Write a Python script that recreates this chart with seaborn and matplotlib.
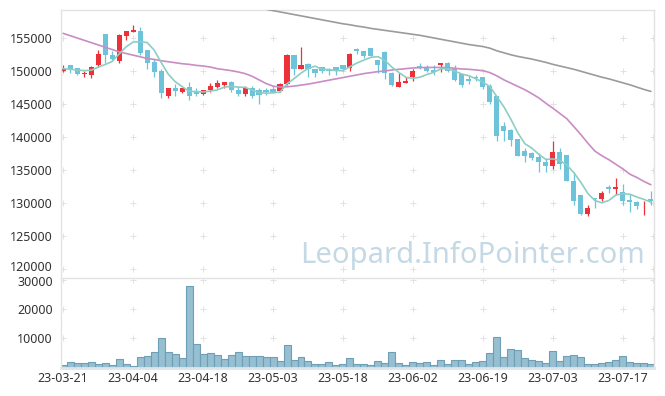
import numpy as np
import pandas as pd
import matplotlib
matplotlib.use("Agg")
import matplotlib.pyplot as plt
import matplotlib.transforms as mtransforms
import seaborn as sns

# daily candles, 23-03-21 .. 23-07-21 (trading days)
opens = [149900, 150900, 150400, 149500, 149300, 150800, 155500, 152300, 151400, 155300,
         155900, 156000, 153100, 151300, 150000, 146100, 147300, 146700, 147500, 146900,
         146400, 147000, 147500, 147800, 148300, 147100, 146400, 147300, 147000, 147000,
         147200, 146900, 147900, 152400, 150200, 151000, 150300, 150600, 150300, 150500,
         150900, 150400, 153300, 153000, 153400, 151600, 152800, 149600, 147500, 148100,
         149000, 150700, 150500, 150100, 150800, 151200, 150200, 149500, 148700, 149100,
         149100, 147600, 146100, 141600, 141000, 139600, 137800, 137500, 136900, 136100,
         135600, 137700, 137200, 133300, 131200, 128200, 130700, 130600, 132300, 132000,
         131600, 130400, 130100, 130200, 130600]
closes = [150200, 150300, 149500, 149700, 150600, 152500, 152300, 151800, 155400, 156000,
          156100, 152700, 151100, 149800, 146600, 147300, 146900, 147300, 146200, 146400,
          147000, 147600, 148100, 148300, 147100, 146400, 147400, 146100, 146300, 146700,
          146700, 147900, 152400, 150200, 150900, 150200, 149700, 150000, 150000, 150100,
          150300, 152500, 152900, 152200, 152200, 150800, 149600, 147800, 148200, 148500,
          150000, 150500, 149900, 149800, 151200, 150000, 148600, 147800, 148500, 148900,
          147500, 145200, 140100, 140800, 139500, 137100, 137100, 136700, 136100, 135600,
          137600, 135900, 133200, 130300, 128300, 129200, 130500, 131500, 132100, 132400,
          130200, 130100, 129400, 130300, 130300]
highs = [150800, 150900, 150400, 149900, 150700, 153100, 155500, 152900, 155500, 156000,
         156900, 156600, 153100, 151700, 150300, 147300, 147900, 147300, 148300, 147300,
         147100, 148100, 148600, 148300, 148400, 147600, 147600, 147600, 147300, 147300,
         147600, 148100, 152500, 152400, 153600, 151100, 150300, 150600, 150400, 150500,
         150900, 152700, 153400, 153000, 153400, 151600, 152900, 149800, 149600, 149100,
         150300, 151200, 150800, 150800, 151200, 151300, 150900, 149500, 149400, 149400,
         149100, 147900, 146100, 142200, 141200, 139600, 138300, 137700, 137500, 136800,
         139400, 138300, 137200, 134600, 131200, 129600, 130700, 131700, 132700, 133700,
         132800, 131300, 130300, 130300, 131800]
lows = [149800, 149600, 149300, 149100, 148900, 150600, 151100, 151600, 151100, 154600,
        155900, 152300, 150300, 149100, 145800, 145800, 146100, 146600, 145600, 146100,
        146300, 146800, 147300, 147300, 146800, 146100, 146200, 145800, 145000, 146300,
        146600, 146700, 147800, 149300, 150200, 149100, 149100, 149600, 149400, 149400,
        149900, 150000, 152500, 151900, 152200, 149700, 148800, 147700, 147500, 148100,
        148400, 150300, 149800, 149300, 149800, 149800, 148400, 147500, 147900, 148400,
        147200, 144900, 139300, 139300, 138500, 137100, 136100, 136500, 134700, 134700,
        135100, 135100, 133200, 129700, 128100, 128000, 129200, 130300, 131500, 131100,
        129600, 128500, 129000, 128100, 129600]
volume = [700, 1800, 1400, 1400, 1800, 1100, 1400, 750, 2800, 1100,
          400, 3500, 3800, 5200, 10000, 5200, 4500, 3100, 27800, 7900,
          4500, 4850, 4150, 2800, 4150, 5200, 4050, 4050, 4050, 3700,
          3500, 2100, 7600, 2600, 3500, 2100, 1100, 1100, 1800, 750,
          1100, 3100, 1100, 1100, 750, 2100, 1400, 5200, 1400, 750,
          1800, 1400, 1800, 750, 2450, 1100, 2450, 2450, 1100, 1800,
          2100, 4850, 10300, 3500, 6200, 5900, 3100, 2450, 2100, 1400,
          5500, 2100, 3800, 4150, 3500, 1100, 1100, 1400, 1800, 2450,
          3800, 1800, 1400, 1400, 1100]

# moving averages as drawn
ma5 = [150300, 150200, 150100, 150000,
       150060, 150520, 150920, 151380, 152520, 153600, 154320, 154400, 154260, 153140,
       151260, 149500, 148340, 147580, 146860, 146820, 146760, 146900, 147060, 147480,
       147620, 147500, 147460, 147060, 146660, 146580, 146640, 146740, 148000, 148780,
       149620, 150320, 150680, 150200, 150160, 150000, 150020, 150580, 151160, 151600,
       152020, 152120, 151540, 150520, 149720, 148980, 148820, 149000, 149420, 149740,
       150280, 150280, 149900, 149480, 149220, 148760, 148260, 147580, 146040, 144500,
       142620, 140540, 138920, 138240, 137300, 136520, 136620, 136380, 135680, 134520,
       133060, 131380, 130300, 129960, 130320, 131140, 131340, 131260, 130840, 130480, 130060]
ma20 = [155650, 155300, 154950, 154600, 154250, 153900, 153550, 153200, 152850, 152600,
        152350, 152100, 151850, 151700, 151500, 151350, 151200, 151050, 150950, 150800,
        150700, 150550, 150300, 150150, 150000, 149800, 149550, 149150, 148600, 148050,
        147650, 147500, 147550, 147650, 147800, 147950, 148150, 148350, 148550, 148750,
        148950, 149150, 149350, 149550, 149700, 149850, 149950, 150100, 150200, 150300,
        150400, 150450, 150480, 150480, 150480, 150450, 150350, 150250, 150200, 150100,
        150000, 149700, 149200, 148600, 148100, 147600, 147100, 146500, 145850, 145050,
        144300, 143500, 142700, 141500, 140300, 139000, 137800, 137100, 136500, 135800,
        135100, 134300, 133800, 133200, 132700]
ma60_tail = [159300, 159100, 158900, 158700, 158500, 158300, 158100, 157900, 157700, 157500,
             157300, 157100, 156950, 156750, 156600, 156400, 156250, 156100, 155950, 155800,
             155650, 155500, 155350, 155150, 154950, 154750, 154550, 154350, 154150, 153950,
             153800, 153650, 153400, 153000, 152700, 152400, 152150, 151950, 151750, 151500,
             151250, 150950, 150700, 150450, 150200, 149900, 149600, 149300, 149000, 148750,
             148450, 148150, 147850, 147500, 147150, 146850]

tick_labels = ['23-03-21', '23-04-04', '23-04-18', '23-05-03', '23-05-18',
               '23-06-02', '23-06-19', '23-07-03', '23-07-17']

n = len(closes)
df = pd.DataFrame({'i': np.arange(n), 'open': opens, 'close': closes,
                   'high': highs, 'low': lows, 'volume': volume,
                   'ma5': ma5, 'ma20': ma20})
df['ma60'] = np.r_[np.full(n - len(ma60_tail), np.nan), ma60_tail]

sns.set_theme(style="white")
plt.rcParams['font.family'] = ['Noto Sans', 'DejaVu Sans']

UP = '#ec3138'
DOWN = '#6cc3da'
GRID = '#e2e2e2'
SPINE = '#e3e3e3'

fig = plt.figure(figsize=(6.65, 3.96), dpi=100)
ax = fig.add_axes([61 / 665, 1 - 278 / 396, 593 / 665, 268 / 396])
axv = fig.add_axes([61 / 665, 1 - 367.5 / 396, 593 / 665, 89.5 / 396])

xlim = (-0.3, 84.45)
xt = list(range(0, 81, 10))
pt = list(range(120000, 155001, 5000))
vt = [10000, 20000, 30000]

# grid drawn as little crosses
gx = xt + [xlim[1] - 0.15]
for yy in pt:
    ax.plot(gx, [yy] * len(gx), ls='none', marker='+', ms=4, mew=0.7, color=GRID, zorder=0)
for yy in vt:
    axv.plot(gx, [yy] * len(gx), ls='none', marker='+', ms=4, mew=0.7, color=GRID, zorder=0)

# candles
up = df['close'] >= df['open']
cols = np.where(up, UP, DOWN)
body_lo = np.minimum(df['open'], df['close'])
body_h = np.maximum((df['close'] - df['open']).abs(), 90)
ax.vlines(df['i'], df['low'], df['high'], colors=cols, lw=0.9, zorder=2)
ax.bar(df['i'], body_h, bottom=body_lo, width=0.72, color=cols, lw=0, zorder=2)

# moving averages
sns.lineplot(data=df, x='i', y='ma60', ax=ax, color='#9b9b9b', lw=1.2, zorder=3)
sns.lineplot(data=df, x='i', y='ma20', ax=ax, color='#c98cc5', lw=1.2, zorder=3)
sns.lineplot(data=df, x='i', y='ma5', ax=ax, color='#8ecdc3', lw=1.2, zorder=3)

# watermark
ax.text((645 - 61) / 593, (278 - 263) / 268, 'Leopard.InfoPointer.com',
        transform=ax.transAxes, ha='right', va='baseline', fontsize=21,
        color='#c4d9e5', zorder=1)

# volume
sns.barplot(data=df, x='i', y='volume', ax=axv, native_scale=True, color='#96bfd1',
            edgecolor='#6f9fb7', linewidth=0.8, width=1.0, saturation=1, errorbar=None)

ax.set_xlim(*xlim)
ax.set_ylim(118560, 159190)
ax.set_yticks(pt)
ax.set_yticklabels([str(v) for v in pt])
ax.set_xticks(xt)
ax.set_xticklabels([])
axv.set_xlim(*xlim)
axv.set_ylim(0, 30650)
axv.set_yticks(vt)
axv.set_yticklabels([str(v) for v in vt])
axv.set_xticks(xt)
axv.set_xticklabels(tick_labels)

for a in (ax, axv):
    a.set_xlabel('')
    a.set_ylabel('')
    a.tick_params(length=0, labelsize=9, labelcolor='#333333')
    a.tick_params(axis='y', pad=6)
    a.tick_params(axis='x', pad=3)
    for s in a.spines.values():
        s.set_color(SPINE)
        s.set_linewidth(1)
ax.spines['bottom'].set_visible(False)
axv.spines['bottom'].set_color('#dde4ea')
axv.spines['bottom'].set_linewidth(2)

# keep the two labels at the panel seam apart
lab_low = ax.get_yticklabels()[0]
lab_low.set_transform(lab_low.get_transform() +
                      mtransforms.ScaledTranslation(0, 2 / 72, fig.dpi_scale_trans))
lab_top = axv.get_yticklabels()[-1]
lab_top.set_transform(lab_top.get_transform() +
                      mtransforms.ScaledTranslation(0, -1 / 72, fig.dpi_scale_trans))

fig.savefig('out.png', dpi=100)
